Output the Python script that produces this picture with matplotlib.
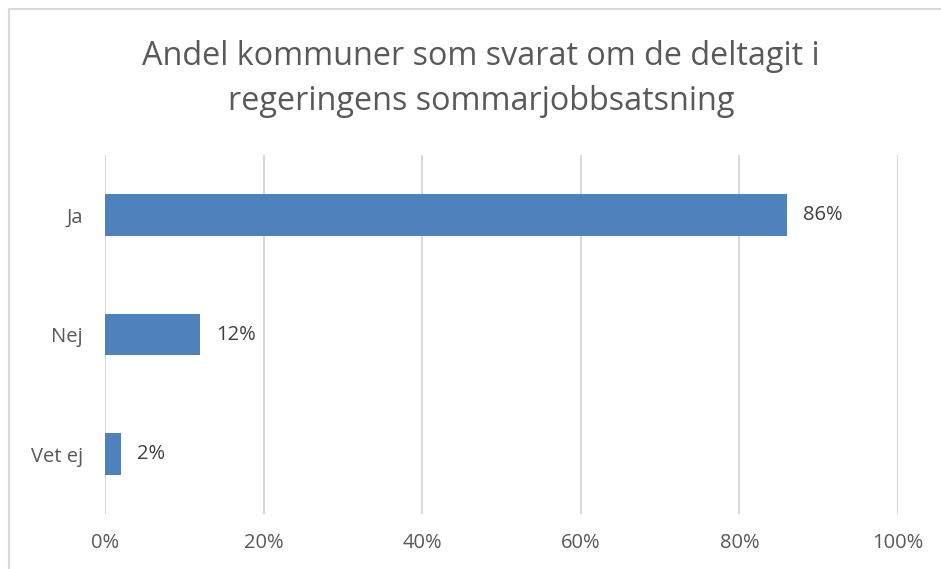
import matplotlib.pyplot as plt
from matplotlib.patches import Rectangle

# data
kategorier = ['Ja', 'Nej', 'Vet ej']
andel = [86, 12, 2]
xticks = [0, 20, 40, 60, 80, 100]
titel = 'Andel kommuner som svarat om de deltagit i\nregeringens sommarjobbsatsning'

W, H = 941, 569
fig = plt.figure(figsize=(W / 100, H / 100), dpi=100)
plt.rcParams['font.family'] = ['Open Sans', 'DejaVu Sans']

# chart border (Excel style), cut off at right/bottom
fig.patches.append(Rectangle((9 / W, -0.1), 1.2, 1 - 9 / H + 0.1, transform=fig.transFigure,
                             fill=False, edgecolor='#d9d9d9', linewidth=1.5))

ax = fig.add_axes([105 / W, 1 - 514 / H, (898 - 105) / W, (514 - 155) / H])

y = list(range(len(kategorier)))
ax.barh(y, andel, height=0.35, color='#4f81bd', zorder=3)
for yi, v in zip(y, andel):
    ax.text(v + 2, yi, f'{v}%', va='center', ha='left', fontsize=14.5, color='#404040')

ax.set_ylim(len(kategorier) - 0.5, -0.5)
ax.set_yticks(y)
ax.set_yticklabels(kategorier, fontsize=14.5, color='#595959')
ax.set_xlim(0, 100)
ax.set_xticks(xticks)
ax.set_xticklabels([f'{t}%' for t in xticks], fontsize=14.5, color='#595959')
ax.tick_params(length=0)
ax.tick_params(axis='x', pad=14)
ax.tick_params(axis='y', pad=16)
ax.grid(axis='x', color='#d9d9d9', linewidth=1.5, zorder=0)
for s in ax.spines.values():
    s.set_visible(False)

fig.text(481 / W, 1 - 79 / H, titel, ha='center', va='center', fontsize=23.3, color='#595959',
         linespacing=1.45)

fig.savefig('out.png', dpi=100)
